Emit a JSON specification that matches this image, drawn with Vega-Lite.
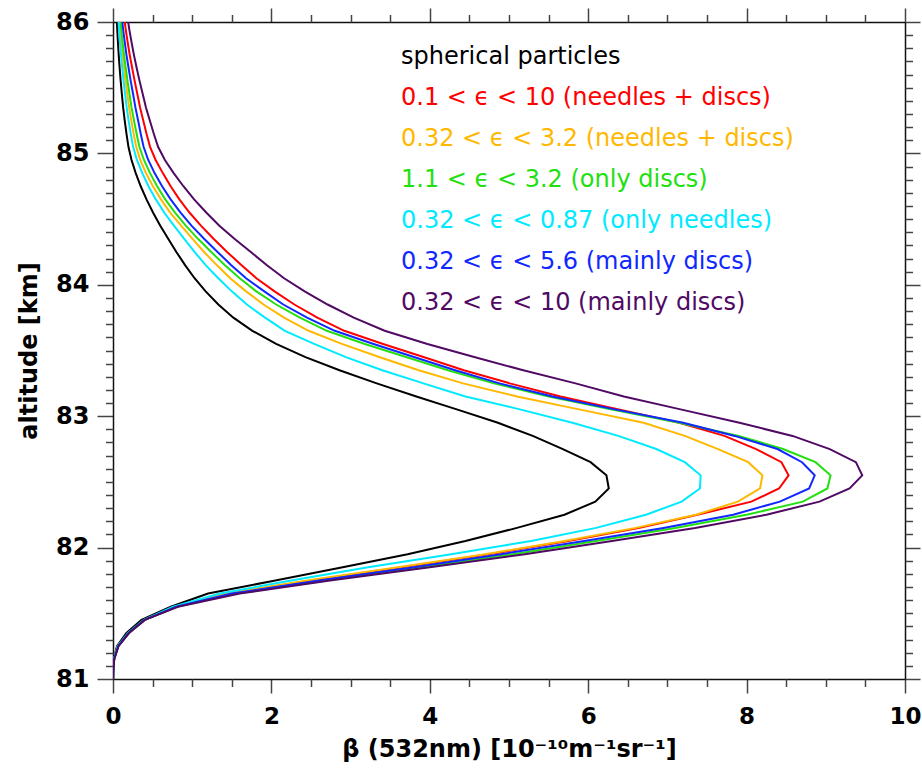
{
  "$schema": "https://vega.github.io/schema/vega-lite/v6.json",
  "width": 792,
  "height": 657,
  "autosize": "none",
  "padding": {"left": 113, "top": 22, "right": 17, "bottom": 91},
  "background": "white",
  "config": {
    "view": {"stroke": null},
    "axis": {"grid": false, "domainColor": "#111111", "domainWidth": 1.5, "tickColor": "#444444", "tickWidth": 1.5, "labelColor": "#000000", "titleColor": "#000000", "labelFont": "DejaVu Sans", "titleFont": "DejaVu Sans"}
  },
  "datasets": {
    "series": [
      {"id": "k", "name": "spherical particles"},
      {"id": "r", "name": "0.1 < ϵ < 10 (needles + discs)"},
      {"id": "o", "name": "0.32 < ϵ < 3.2 (needles + discs)"},
      {"id": "g", "name": "1.1 < ϵ < 3.2 (only discs)"},
      {"id": "c", "name": "0.32 < ϵ < 0.87 (only needles)"},
      {"id": "b", "name": "0.32 < ϵ < 5.6 (mainly discs)"},
      {"id": "p", "name": "0.32 < ϵ < 10 (mainly discs)"}
    ],
    "profiles": [
      {"alt": 80.95, "k": 0, "r": 0, "o": 0, "g": 0, "c": 0, "b": 0, "p": 0},
      {"alt": 81.05, "k": 0.003, "r": 0.003, "o": 0.003, "g": 0.003, "c": 0.003, "b": 0.003, "p": 0.003},
      {"alt": 81.15, "k": 0.01, "r": 0.015, "o": 0.015, "g": 0.015, "c": 0.01, "b": 0.015, "p": 0.015},
      {"alt": 81.25, "k": 0.05, "r": 0.065, "o": 0.06, "g": 0.065, "c": 0.06, "b": 0.065, "p": 0.07},
      {"alt": 81.35, "k": 0.17, "r": 0.2, "o": 0.2, "g": 0.2, "c": 0.19, "b": 0.2, "p": 0.2},
      {"alt": 81.45, "k": 0.36, "r": 0.4, "o": 0.4, "g": 0.4, "c": 0.39, "b": 0.4, "p": 0.4},
      {"alt": 81.55, "k": 0.73, "r": 0.8, "o": 0.8, "g": 0.8, "c": 0.76, "b": 0.8, "p": 0.82},
      {"alt": 81.65, "k": 1.2, "r": 1.45, "o": 1.42, "g": 1.55, "c": 1.35, "b": 1.5, "p": 1.6},
      {"alt": 81.75, "k": 2.05, "r": 2.5, "o": 2.45, "g": 2.68, "c": 2.25, "b": 2.6, "p": 2.74},
      {"alt": 81.85, "k": 2.9, "r": 3.65, "o": 3.6, "g": 3.9, "c": 3.22, "b": 3.8, "p": 4.0},
      {"alt": 81.95, "k": 3.72, "r": 4.75, "o": 4.7, "g": 5.05, "c": 4.27, "b": 4.9, "p": 5.2},
      {"alt": 82.05, "k": 4.45, "r": 5.75, "o": 5.7, "g": 6.1, "c": 5.28, "b": 5.95, "p": 6.3},
      {"alt": 82.15, "k": 5.1, "r": 6.65, "o": 6.6, "g": 7.1, "c": 6.1, "b": 6.95, "p": 7.35},
      {"alt": 82.25, "k": 5.7, "r": 7.38, "o": 7.36, "g": 8.0, "c": 6.73, "b": 7.83, "p": 8.25},
      {"alt": 82.35, "k": 6.09, "r": 8.06, "o": 7.89, "g": 8.71, "c": 7.18, "b": 8.42, "p": 8.92},
      {"alt": 82.45, "k": 6.26, "r": 8.41, "o": 8.17, "g": 9.02, "c": 7.41, "b": 8.79, "p": 9.3},
      {"alt": 82.55, "k": 6.23, "r": 8.53, "o": 8.2, "g": 9.06, "c": 7.42, "b": 8.86, "p": 9.46},
      {"alt": 82.65, "k": 6.03, "r": 8.44, "o": 8.02, "g": 8.87, "c": 7.22, "b": 8.7, "p": 9.38},
      {"alt": 82.75, "k": 5.68, "r": 8.12, "o": 7.64, "g": 8.46, "c": 6.86, "b": 8.39, "p": 9.05},
      {"alt": 82.85, "k": 5.3, "r": 7.72, "o": 7.22, "g": 7.9, "c": 6.38, "b": 7.85, "p": 8.58},
      {"alt": 82.95, "k": 4.86, "r": 7.15, "o": 6.7, "g": 7.15, "c": 5.8, "b": 7.2, "p": 7.91},
      {"alt": 83.05, "k": 4.35, "r": 6.4, "o": 5.9, "g": 6.3, "c": 5.15, "b": 6.35, "p": 7.18},
      {"alt": 83.15, "k": 3.83, "r": 5.65, "o": 5.1, "g": 5.5, "c": 4.45, "b": 5.55, "p": 6.45},
      {"alt": 83.25, "k": 3.33, "r": 5.01, "o": 4.42, "g": 4.81, "c": 3.92, "b": 4.88, "p": 5.84},
      {"alt": 83.35, "k": 2.86, "r": 4.43, "o": 3.86, "g": 4.23, "c": 3.4, "b": 4.32, "p": 5.18},
      {"alt": 83.45, "k": 2.43, "r": 3.92, "o": 3.36, "g": 3.7, "c": 2.94, "b": 3.8, "p": 4.56},
      {"alt": 83.55, "k": 2.06, "r": 3.41, "o": 2.89, "g": 3.18, "c": 2.54, "b": 3.29, "p": 3.97},
      {"alt": 83.65, "k": 1.76, "r": 2.92, "o": 2.47, "g": 2.7, "c": 2.17, "b": 2.8, "p": 3.43},
      {"alt": 83.75, "k": 1.52, "r": 2.58, "o": 2.16, "g": 2.36, "c": 1.92, "b": 2.45, "p": 3.04},
      {"alt": 83.85, "k": 1.33, "r": 2.29, "o": 1.9, "g": 2.06, "c": 1.69, "b": 2.15, "p": 2.71},
      {"alt": 83.95, "k": 1.17, "r": 2.04, "o": 1.68, "g": 1.81, "c": 1.5, "b": 1.91, "p": 2.42},
      {"alt": 84.05, "k": 1.03, "r": 1.81, "o": 1.48, "g": 1.6, "c": 1.33, "b": 1.68, "p": 2.16},
      {"alt": 84.15, "k": 0.91, "r": 1.62, "o": 1.31, "g": 1.41, "c": 1.17, "b": 1.49, "p": 1.94},
      {"alt": 84.25, "k": 0.8, "r": 1.44, "o": 1.15, "g": 1.24, "c": 1.03, "b": 1.32, "p": 1.74},
      {"alt": 84.35, "k": 0.697, "r": 1.269, "o": 1.004, "g": 1.073, "c": 0.899, "b": 1.15, "p": 1.533},
      {"alt": 84.45, "k": 0.597, "r": 1.11, "o": 0.86, "g": 0.919, "c": 0.77, "b": 0.991, "p": 1.343},
      {"alt": 84.55, "k": 0.505, "r": 0.965, "o": 0.722, "g": 0.783, "c": 0.646, "b": 0.853, "p": 1.177},
      {"alt": 84.65, "k": 0.423, "r": 0.838, "o": 0.605, "g": 0.66, "c": 0.541, "b": 0.728, "p": 1.024},
      {"alt": 84.75, "k": 0.35, "r": 0.728, "o": 0.504, "g": 0.557, "c": 0.448, "b": 0.62, "p": 0.889},
      {"alt": 84.85, "k": 0.287, "r": 0.629, "o": 0.416, "g": 0.468, "c": 0.37, "b": 0.525, "p": 0.766},
      {"alt": 84.95, "k": 0.234, "r": 0.538, "o": 0.344, "g": 0.391, "c": 0.302, "b": 0.445, "p": 0.655},
      {"alt": 85.05, "k": 0.195, "r": 0.468, "o": 0.293, "g": 0.333, "c": 0.254, "b": 0.386, "p": 0.569},
      {"alt": 85.15, "k": 0.17, "r": 0.423, "o": 0.26, "g": 0.298, "c": 0.224, "b": 0.35, "p": 0.515},
      {"alt": 85.25, "k": 0.148, "r": 0.382, "o": 0.231, "g": 0.265, "c": 0.197, "b": 0.317, "p": 0.465},
      {"alt": 85.35, "k": 0.128, "r": 0.342, "o": 0.204, "g": 0.234, "c": 0.173, "b": 0.283, "p": 0.416},
      {"alt": 85.45, "k": 0.112, "r": 0.308, "o": 0.181, "g": 0.209, "c": 0.153, "b": 0.254, "p": 0.376},
      {"alt": 85.55, "k": 0.097, "r": 0.274, "o": 0.16, "g": 0.184, "c": 0.134, "b": 0.224, "p": 0.336},
      {"alt": 85.65, "k": 0.084, "r": 0.242, "o": 0.14, "g": 0.161, "c": 0.117, "b": 0.197, "p": 0.299},
      {"alt": 85.75, "k": 0.072, "r": 0.211, "o": 0.121, "g": 0.139, "c": 0.101, "b": 0.17, "p": 0.264},
      {"alt": 85.85, "k": 0.062, "r": 0.184, "o": 0.105, "g": 0.12, "c": 0.087, "b": 0.148, "p": 0.233},
      {"alt": 85.95, "k": 0.053, "r": 0.159, "o": 0.09, "g": 0.103, "c": 0.075, "b": 0.127, "p": 0.204},
      {"alt": 86.05, "k": 0.046, "r": 0.138, "o": 0.078, "g": 0.09, "c": 0.065, "b": 0.11, "p": 0.179}
    ]
  },
  "data": {"name": "profiles"},
  "transform": [
    {"fold": ["k", "r", "o", "g", "c", "b", "p"], "as": ["key", "beta"]},
    {"lookup": "key", "from": {"data": {"name": "series"}, "key": "id", "fields": ["name"]}}
  ],
  "layer": [
    {
      "mark": {"type": "line", "strokeWidth": 2, "clip": true},
      "encoding": {
        "x": {
          "field": "beta", "type": "quantitative",
          "scale": {"domain": [0, 10], "nice": false, "zero": false},
          "axis": {
            "orient": "bottom", "values": [0, 2, 4, 6, 8, 10], "format": "d", "tickSize": 14,
            "labelFontSize": 23, "labelFontWeight": "bold", "labelPadding": 12, "labelOverlap": false, "labelFlush": false,
            "title": "β (532nm) [10⁻¹⁰m⁻¹sr⁻¹]", "titleFontSize": 24, "titleFontWeight": "bold", "titlePadding": 9
          }
        },
        "y": {
          "field": "alt", "type": "quantitative",
          "scale": {"domain": [81, 86], "nice": false, "zero": false},
          "axis": {
            "orient": "left", "values": [81, 82, 83, 84, 85, 86], "format": "d", "tickSize": 16,
            "labelFontSize": 24, "labelFontWeight": "bold", "labelPadding": 8, "labelOverlap": false, "labelFlush": false,
            "title": "altitude [km]", "titleFontSize": 24, "titleFontWeight": "bold", "titlePadding": 14
          }
        },
        "color": {
          "field": "name", "type": "nominal",
          "scale": {
            "domain": ["spherical particles", "0.1 < ϵ < 10 (needles + discs)", "0.32 < ϵ < 3.2 (needles + discs)", "1.1 < ϵ < 3.2 (only discs)", "0.32 < ϵ < 0.87 (only needles)", "0.32 < ϵ < 5.6 (mainly discs)", "0.32 < ϵ < 10 (mainly discs)"],
            "range": ["#000000", "#ff0000", "#ffb800", "#22e010", "#00eaff", "#1028ff", "#500a64"]
          },
          "legend": {
            "title": null, "orient": "none", "legendX": 264, "legendY": 23,
            "symbolSize": 0, "symbolOpacity": 0, "symbolStrokeWidth": 0, "labelOffset": 0,
            "labelFont": "DejaVu Sans", "labelFontSize": 24, "rowPadding": 17, "padding": 0, "labelLimit": 700,
            "encode": {"labels": {"update": {"fill": {"scale": "color", "field": "value"}}}}
          }
        },
        "order": {"field": "alt", "type": "quantitative"}
      }
    },
    {
      "mark": {"type": "line", "opacity": 0, "clip": true},
      "encoding": {
        "x": {
          "field": "beta", "type": "quantitative",
          "axis": {"orient": "bottom", "values": [0.5, 1, 1.5, 2.5, 3, 3.5, 4.5, 5, 5.5, 6.5, 7, 7.5, 8.5, 9, 9.5], "labels": false, "title": null, "domain": false, "tickSize": 7.5}
        },
        "y": {
          "field": "alt", "type": "quantitative",
          "axis": {"orient": "left", "values": [81.1, 81.2, 81.3, 81.4, 81.5, 81.6, 81.7, 81.8, 81.9, 82.1, 82.2, 82.3, 82.4, 82.5, 82.6, 82.7, 82.8, 82.9, 83.1, 83.2, 83.3, 83.4, 83.5, 83.6, 83.7, 83.8, 83.9, 84.1, 84.2, 84.3, 84.4, 84.5, 84.6, 84.7, 84.8, 84.9, 85.1, 85.2, 85.3, 85.4, 85.5, 85.6, 85.7, 85.8, 85.9], "labels": false, "title": null, "domain": false, "tickSize": 7.5}
        },
        "order": {"field": "alt", "type": "quantitative"}
      }
    },
    {
      "mark": {"type": "line", "opacity": 0, "clip": true},
      "encoding": {
        "x": {
          "field": "beta", "type": "quantitative",
          "axis": {"orient": "top", "values": [0, 2, 4, 6, 8, 10], "labels": false, "title": null, "tickSize": 14}
        },
        "y": {
          "field": "alt", "type": "quantitative",
          "axis": {"orient": "right", "values": [81, 82, 83, 84, 85, 86], "labels": false, "title": null, "tickSize": 15}
        },
        "order": {"field": "alt", "type": "quantitative"}
      }
    },
    {
      "mark": {"type": "line", "opacity": 0, "clip": true},
      "encoding": {
        "x": {
          "field": "beta", "type": "quantitative",
          "axis": {"orient": "top", "values": [0.5, 1, 1.5, 2.5, 3, 3.5, 4.5, 5, 5.5, 6.5, 7, 7.5, 8.5, 9, 9.5], "labels": false, "title": null, "domain": false, "tickSize": 7.5}
        },
        "y": {
          "field": "alt", "type": "quantitative",
          "axis": {"orient": "right", "values": [81.1, 81.2, 81.3, 81.4, 81.5, 81.6, 81.7, 81.8, 81.9, 82.1, 82.2, 82.3, 82.4, 82.5, 82.6, 82.7, 82.8, 82.9, 83.1, 83.2, 83.3, 83.4, 83.5, 83.6, 83.7, 83.8, 83.9, 84.1, 84.2, 84.3, 84.4, 84.5, 84.6, 84.7, 84.8, 84.9, 85.1, 85.2, 85.3, 85.4, 85.5, 85.6, 85.7, 85.8, 85.9], "labels": false, "title": null, "domain": false, "tickSize": 7.5}
        },
        "order": {"field": "alt", "type": "quantitative"}
      }
    }
  ],
  "resolve": {"axis": {"x": "independent", "y": "independent"}}
}
